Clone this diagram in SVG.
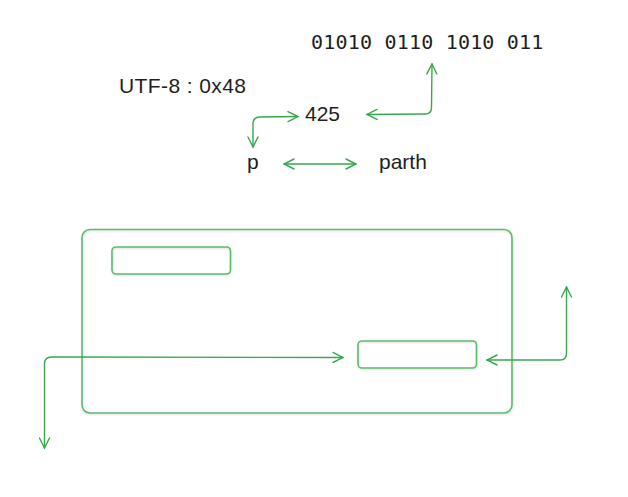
<svg xmlns="http://www.w3.org/2000/svg" width="628" height="497" viewBox="0 0 628 497">
<style>
.t{font-family:"Liberation Sans","DejaVu Sans",sans-serif;font-size:21px;fill:#1e1e1e}
.m{font-family:"DejaVu Sans Mono","Liberation Mono",monospace;font-size:20px;letter-spacing:0.2px;fill:#1e1e1e}
.c{fill:none;stroke:#38a84f;stroke-width:1.4;stroke-linecap:round;stroke-linejoin:round}
.b{fill:none;stroke:#5cba6c;stroke-width:1.6}
</style>
<defs>
<marker id="ah" viewBox="0 0 12 12" refX="11" refY="6" markerWidth="12" markerHeight="12" markerUnits="userSpaceOnUse" orient="auto-start-reverse">
<path d="M1,1 L11,6 L1,11" fill="none" stroke="#38a84f" stroke-width="1.4" stroke-linecap="round"/>
</marker>
<filter id="sh" x="-5%" y="-5%" width="110%" height="120%"><feDropShadow dx="0.5" dy="1" stdDeviation="0.8" flood-color="#000" flood-opacity="0.15"/></filter>
</defs>
<g id="binary"><text class="m" x="311" y="49">01010 0110 1010 011</text></g>
<g id="utf8"><text class="t" x="119" y="93" textLength="127">UTF-8 : 0x48</text></g>
<g id="n425"><text class="t" x="305" y="121">425</text></g>
<g id="p"><text class="t" x="247" y="169">p</text></g>
<g id="parth"><text class="t" x="379" y="169">parth</text></g>
<g id="outer"><rect class="b" filter="url(#sh)" x="82" y="229.5" width="430" height="183.5" rx="8"/></g>
<g id="inner1"><rect class="b" filter="url(#sh)" x="112" y="247" width="118.5" height="27" rx="4"/></g>
<g id="inner2"><rect class="b" filter="url(#sh)" x="358" y="341" width="118.5" height="27" rx="4"/></g>
<g id="connectors">
<path class="c" marker-start="url(#ah)" marker-end="url(#ah)" d="M367,114.5 L425,114 Q431.5,114 431.5,107.5 L432,64"/>
<path class="c" marker-start="url(#ah)" marker-end="url(#ah)" d="M253,147 L253,124 Q253,117 260,117 L298,116.5"/>
<path class="c" marker-start="url(#ah)" marker-end="url(#ah)" d="M284,164 L356,164"/>
<path class="c" marker-start="url(#ah)" marker-end="url(#ah)" d="M44.5,448 L44.5,364 Q44.5,357 51.5,357 L343,357.5"/>
<path class="c" marker-start="url(#ah)" marker-end="url(#ah)" d="M487,360 L560,360 Q566.5,360 566.5,353.5 L566.5,287"/>
</g>
</svg>
